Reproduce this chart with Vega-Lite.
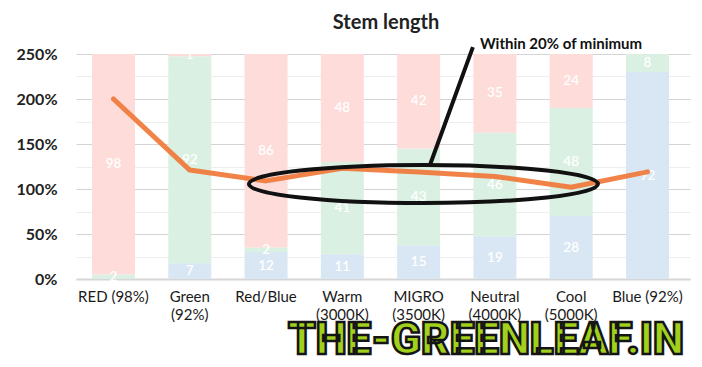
{
  "$schema": "https://vega.github.io/schema/vega-lite/v6.json",
  "width": 614,
  "height": 225,
  "autosize": {"type": "none"},
  "padding": {"left": 76, "top": 54, "right": 12, "bottom": 88},
  "background": "#ffffff",
  "title": {"text": "Stem length", "fontSize": 20, "fontWeight": "bold", "font": "Lato", "color": "#222222", "anchor": "middle", "dx": 3},
  "config": {"view": {"stroke": null}, "font": "Lato"},
  "datasets": {
    "bars": [
      {"cat": "RED (98%)", "band": "Blue", "pct": 0},
      {"cat": "RED (98%)", "band": "Green", "pct": 2},
      {"cat": "RED (98%)", "band": "Red", "pct": 98},
      {"cat": "Green (92%)", "band": "Blue", "pct": 7},
      {"cat": "Green (92%)", "band": "Green", "pct": 92},
      {"cat": "Green (92%)", "band": "Red", "pct": 1},
      {"cat": "Red/Blue", "band": "Blue", "pct": 12},
      {"cat": "Red/Blue", "band": "Green", "pct": 2},
      {"cat": "Red/Blue", "band": "Red", "pct": 86},
      {"cat": "Warm (3000K)", "band": "Blue", "pct": 11},
      {"cat": "Warm (3000K)", "band": "Green", "pct": 41},
      {"cat": "Warm (3000K)", "band": "Red", "pct": 48},
      {"cat": "MIGRO (3500K)", "band": "Blue", "pct": 15},
      {"cat": "MIGRO (3500K)", "band": "Green", "pct": 43},
      {"cat": "MIGRO (3500K)", "band": "Red", "pct": 42},
      {"cat": "Neutral (4000K)", "band": "Blue", "pct": 19},
      {"cat": "Neutral (4000K)", "band": "Green", "pct": 46},
      {"cat": "Neutral (4000K)", "band": "Red", "pct": 35},
      {"cat": "Cool (5000K)", "band": "Blue", "pct": 28},
      {"cat": "Cool (5000K)", "band": "Green", "pct": 48},
      {"cat": "Cool (5000K)", "band": "Red", "pct": 24},
      {"cat": "Blue (92%)", "band": "Blue", "pct": 92},
      {"cat": "Blue (92%)", "band": "Green", "pct": 8},
      {"cat": "Blue (92%)", "band": "Red", "pct": 0}
    ],
    "stem": [
      {"cat": "RED (98%)", "stem": 200},
      {"cat": "Green (92%)", "stem": 121},
      {"cat": "Red/Blue", "stem": 109},
      {"cat": "Warm (3000K)", "stem": 123},
      {"cat": "MIGRO (3500K)", "stem": 119},
      {"cat": "Neutral (4000K)", "stem": 114},
      {"cat": "Cool (5000K)", "stem": 102},
      {"cat": "Blue (92%)", "stem": 119}
    ],
    "ellipse": [{"cat": "MIGRO (3500K)", "v": 105.5}],
    "note": [{"cat": "Neutral (4000K)", "v": 261, "label": "Within 20% of minimum"}],
    "mark": [{"cat": "Neutral (4000K)", "v": -69, "label": "THE-GREENLEAF.IN"}]
  },
  "layer": [
    {
      "data": {"name": "bars"},
      "mark": {"type": "bar"},
      "encoding": {
        "x": {
          "field": "cat", "type": "nominal", "title": null,
          "sort": ["RED (98%)", "Green (92%)", "Red/Blue", "Warm (3000K)", "MIGRO (3500K)", "Neutral (4000K)", "Cool (5000K)", "Blue (92%)"],
          "scale": {"paddingInner": 0.4364, "paddingOuter": 0.2425, "align": 0.432},
          "axis": {
            "labelExpr": "datum.value == 'RED (98%)' || datum.value == 'Blue (92%)' ? datum.value : split(datum.value, ' ')",
            "labelAngle": 0, "labelFontSize": 15, "labelColor": "#1a1a1a", "labelFont": "Lato",
            "ticks": false, "domain": true, "domainColor": "#d6d6d6", "domainWidth": 2,
            "labelPadding": 10, "labelBaseline": "top", "labelLineHeight": 18, "labelOverlap": false, "labelLimit": 0
          }
        },
        "y": {"field": "pct", "type": "quantitative", "stack": "zero", "scale": {"domain": [0, 100], "nice": false}, "axis": null},
        "color": {"field": "band", "type": "nominal", "scale": {"domain": ["Blue", "Green", "Red"], "range": ["#d8e7f3", "#daf0e2", "#fddcda"]}, "legend": null},
        "order": {"field": "band", "type": "nominal", "sort": "ascending"}
      }
    },
    {
      "data": {"name": "bars"},
      "transform": [
        {"stack": "pct", "groupby": ["cat"], "sort": [{"field": "band", "order": "ascending"}], "as": ["lo", "hi"]},
        {"filter": "datum.pct > 0"},
        {"calculate": "(datum.lo + datum.hi) / 2", "as": "mid"}
      ],
      "mark": {"type": "text", "color": "#ffffff", "fontSize": 13.5, "font": "Lato", "fontWeight": 600, "baseline": "middle"},
      "encoding": {
        "x": {"field": "cat", "type": "nominal", "title": null, "sort": ["RED (98%)", "Green (92%)", "Red/Blue", "Warm (3000K)", "MIGRO (3500K)", "Neutral (4000K)", "Cool (5000K)", "Blue (92%)"]},
        "y": {"field": "mid", "type": "quantitative", "scale": {"domain": [0, 100], "nice": false}, "axis": null},
        "text": {"field": "pct", "type": "quantitative"}
      }
    },
    {
      "data": {"name": "stem"},
      "mark": {"type": "line", "color": "#f07838", "strokeWidth": 5, "strokeCap": "round", "strokeJoin": "round", "opacity": 0.92},
      "encoding": {
        "x": {"field": "cat", "type": "nominal", "title": null, "sort": ["RED (98%)", "Green (92%)", "Red/Blue", "Warm (3000K)", "MIGRO (3500K)", "Neutral (4000K)", "Cool (5000K)", "Blue (92%)"]},
        "y": {
          "field": "stem", "type": "quantitative", "title": null,
          "scale": {"domain": [0, 250], "nice": false},
          "axis": {
            "orient": "left", "values": [0, 50, 100, 150, 200, 250], "labelExpr": "datum.value + '%'",
            "grid": true, "gridColor": "#d4d4d4", "gridWidth": 1.2, "domain": false, "ticks": false,
            "labelFont": "Lato", "labelFontSize": 16, "labelFontWeight": "bold", "labelColor": "#222222", "labelPadding": 19
          }
        }
      }
    },
    {
      "data": {"name": "ellipse"},
      "mark": {
        "type": "point", "filled": false, "stroke": "#111111", "strokeWidth": 4, "opacity": 1, "size": 121801,
        "shape": "M -0.9725 0 C -0.9725 -0.0602 -0.5248 -0.109 0.0275 -0.109 C 0.5798 -0.109 1.0275 -0.0602 1.0275 0 C 1.0275 0.0602 0.5798 0.109 0.0275 0.109 C -0.5248 0.109 -0.9725 0.0602 -0.9725 0 Z M 0.065 -0.109 L 0.311 -0.785"
      },
      "encoding": {
        "x": {"field": "cat", "type": "nominal", "title": null, "sort": ["RED (98%)", "Green (92%)", "Red/Blue", "Warm (3000K)", "MIGRO (3500K)", "Neutral (4000K)", "Cool (5000K)", "Blue (92%)"]},
        "y": {
          "field": "v", "type": "quantitative", "title": null,
          "scale": {"domain": [0, 250], "nice": false},
          "axis": {"orient": "left", "values": [25, 75, 125, 175, 225], "grid": true, "gridColor": "#eeeeee", "labels": false, "ticks": false, "domain": false}
        }
      }
    },
    {
      "data": {"name": "note"},
      "mark": {"type": "text", "align": "left", "baseline": "middle", "dx": -15, "font": "Lato", "fontSize": 15, "fontWeight": "bold", "color": "#111111"},
      "encoding": {
        "x": {"field": "cat", "type": "nominal", "title": null, "sort": ["RED (98%)", "Green (92%)", "Red/Blue", "Warm (3000K)", "MIGRO (3500K)", "Neutral (4000K)", "Cool (5000K)", "Blue (92%)"]},
        "y": {"field": "v", "type": "quantitative", "scale": {"domain": [0, 250], "nice": false}, "axis": null},
        "text": {"field": "label"}
      }
    },
    {
      "data": {"name": "mark"},
      "mark": {"type": "text", "align": "center", "baseline": "middle", "dx": -9, "font": "Roboto", "fontSize": 44, "fontWeight": 900, "fill": "#a2d11c", "stroke": "#151515", "strokeWidth": 2.5},
      "encoding": {
        "x": {"field": "cat", "type": "nominal", "title": null, "sort": ["RED (98%)", "Green (92%)", "Red/Blue", "Warm (3000K)", "MIGRO (3500K)", "Neutral (4000K)", "Cool (5000K)", "Blue (92%)"]},
        "y": {"field": "v", "type": "quantitative", "scale": {"domain": [0, 250], "nice": false}, "axis": null},
        "text": {"field": "label"}
      }
    }
  ],
  "resolve": {"scale": {"y": "independent"}, "axis": {"y": "independent"}}
}
